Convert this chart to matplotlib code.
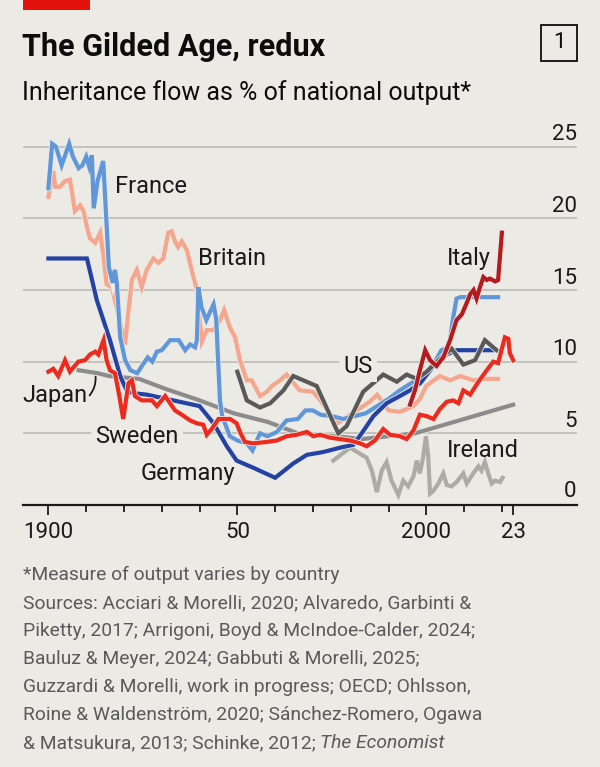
import matplotlib
matplotlib.use("Agg")
import matplotlib.pyplot as plt
import matplotlib.patheffects as pe
from matplotlib.patches import Rectangle

# --- data (year, % of national output) ---
france_years = [1900, 1901, 1902, 1903.5, 1905.5, 1906.5, 1908, 1909, 1910, 1910.8, 1911.5, 1912, 1913,
                1914.5, 1916, 1917, 1917.6, 1918.1, 1919, 1920.3, 1921.7, 1923.5, 1925, 1926.3, 1927.5,
                1928.7, 1930, 1932.2, 1934.5, 1936.2, 1937.5, 1938.8, 1939.3, 1939.7, 1940.5, 1941.8,
                1943, 1943.7, 1944.4, 1945.4, 1946, 1948, 1950, 1952.5, 1954, 1956, 1958, 1960.5, 1963,
                1966, 1968, 1970, 1972, 1975, 1978, 1981, 1984, 1987, 1990, 1993, 1996, 1999, 2002.5,
                2004, 2006, 2007, 2008, 2009, 2019]
france_vals = [22.1, 25.2, 25.0, 23.7, 25.2, 24.3, 23.5, 23.7, 24.3, 23.6, 24.4, 20.7, 22.6,
               24.0, 16.6, 15.5, 16.4, 15.5, 11.7, 10.1, 9.4, 9.2, 9.8, 10.3, 10.0,
               10.7, 10.8, 11.5, 11.5, 10.8, 11.2, 11.0, 11.5, 15.2, 13.8, 12.9,
               13.6, 14.0, 13.0, 7.3, 6.2, 4.8, 4.5, 4.3, 3.8, 5.0, 4.8, 5.1, 5.9,
               6.0, 6.6, 6.6, 6.3, 6.2, 6.0, 6.2, 6.4, 6.9, 7.4, 8.0, 8.5, 9.0, 10.1,
               10.8, 11.0, 12.9, 14.4, 14.5, 14.5]

britain_years = [1900, 1901.3, 1901.8, 1903, 1904.4, 1905.7, 1906.2, 1907, 1908.4, 1909.3, 1910.2, 1911,
                 1912.4, 1913.7, 1914.6, 1915.4, 1916.8, 1920.3, 1921.2, 1922.1, 1923.4, 1924.7, 1926,
                 1927.8, 1929.1, 1930.4, 1931.7, 1932.6, 1933.5, 1934.3, 1935.3, 1936.6, 1937.9, 1939.3,
                 1940.6, 1941.9, 1943.7, 1945.4, 1946.5, 1948, 1949.4, 1950.7, 1952.5, 1953.8, 1956,
                 1957.8, 1959.1, 1961.3, 1963, 1966.5, 1970, 1972, 1974.5, 1976.5, 1981, 1985, 1987,
                 1990, 1993, 1996.6, 1998.3, 2000, 2002, 2003.6, 2006.3, 2009, 2012.4, 2016, 2019]
britain_vals = [21.5, 23.3, 22.2, 22.2, 22.6, 22.7, 21.9, 20.5, 20.9, 20.5, 19.4, 18.6,
                18.3, 19.0, 17.3, 15.4, 15.2, 11.2, 13.6, 15.7, 16.4, 15.2, 16.4,
                17.2, 16.9, 17.2, 19.0, 19.1, 18.4, 18.0, 18.4, 17.8, 16.4, 15.0,
                11.4, 12.2, 12.2, 12.9, 13.6, 12.4, 11.7, 10.1, 8.7, 8.7, 7.6,
                7.9, 8.3, 8.7, 9.1, 8.0, 7.9, 7.3, 6.3, 5.7, 6.5, 7.2, 7.7,
                6.6, 6.5, 6.9, 7.4, 8.3, 8.7, 9.0, 8.7, 9.0, 8.7, 8.8, 8.8]

germany_years = [1900, 1910.2, 1912.8, 1916.3, 1919, 1920.7, 1922.5, 1926, 1933, 1940, 1943.7, 1947.2,
                 1949.8, 1954.2, 1960, 1964.8, 1968.4, 1972.8, 1977.2, 1980.7, 1982.9, 1986, 1989.5,
                 1993, 1995.7, 1998.4, 2001.9, 2005.4, 2008, 2017.7]
germany_vals = [17.2, 17.2, 14.3, 11.5, 9.0, 8.0, 7.8, 7.7, 7.3, 6.9, 5.7, 4.1,
                3.1, 2.6, 1.9, 2.9, 3.5, 3.7, 4.0, 4.2, 5.0, 6.2, 7.1,
                7.6, 8.0, 8.5, 9.7, 10.5, 10.8, 10.8]

sweden_years = [1900, 1901.3, 1902.6, 1904.4, 1905.7, 1907.9, 1909.7, 1911, 1912.4, 1913.2, 1914.6,
                1915.4, 1916.3, 1917.6, 1918.5, 1919.8, 1921.2, 1922.1, 1922.9, 1924.7, 1927.4, 1928.7,
                1930.9, 1932.2, 1933.5, 1935.3, 1937.5, 1939.3, 1941, 1941.9, 1943.2, 1945, 1948.1,
                1949.8, 1950.7, 1952, 1954.2, 1957.8, 1960.4, 1963.1, 1965.7, 1968.4, 1970.1, 1971.9,
                1974.5, 1979.8, 1982.5, 1984.2, 1986.4, 1988.6, 1990.4, 1993, 1994.8, 1996.6, 1998.3,
                2000.1, 2001.9, 2003.6, 2005.4, 2007.1, 2008.5, 2009.8, 2011.6, 2013.8, 2016, 2017.7,
                2019, 2019.9, 2020.8, 2021.7, 2022.1, 2023]
sweden_vals = [9.3, 9.5, 9.0, 10.1, 9.3, 10.0, 10.1, 10.5, 10.7, 10.5, 11.5,
               10.1, 9.4, 9.2, 8.0, 6.0, 8.5, 8.7, 7.6, 7.3, 7.3, 6.9,
               7.6, 7.1, 6.6, 6.3, 5.9, 5.7, 5.6, 4.9, 5.3, 6.0, 6.0,
               5.7, 5.1, 4.4, 4.3, 4.4, 4.5, 4.8, 4.9, 5.1, 4.8, 4.9,
               4.7, 4.5, 4.3, 4.1, 4.5, 5.3, 4.9, 4.8, 4.6, 5.2, 6.3,
               6.2, 6.0, 6.7, 7.2, 7.3, 7.1, 8.0, 7.7, 8.6, 9.4, 10.0,
               9.9, 10.8, 11.7, 11.6, 10.6, 10.1]

italy_years = [1995.7, 1997, 1998.3, 1999.7, 2001, 2002.7, 2004.5, 2006.3, 2008, 2009.4, 2010.7, 2011.6,
               2012.5, 2013.3, 2014.2, 2015.1, 2016, 2016.8, 2018.2, 2019, 2020]
italy_vals = [7.0, 8.0, 9.4, 10.8, 10.1, 9.7, 10.3, 11.5, 12.9, 13.3, 14.1, 14.7,
              15.0, 14.4, 15.2, 15.9, 15.7, 15.8, 15.6, 15.7, 19.0]

us_years = [1950, 1952.5, 1956, 1958.7, 1962.2, 1964.8, 1971, 1976.7, 1978.9, 1983.3, 1988.6, 1992.2,
            1994.8, 1997.5, 2000.1, 2003.6, 2006.7, 2009.8, 2012.9, 2015.5, 2018.6]
us_vals = [9.3, 7.3, 6.8, 7.1, 8.0, 9.0, 8.3, 5.0, 5.5, 7.9, 9.1, 8.6,
           9.1, 8.8, 9.3, 10.2, 10.9, 9.8, 10.1, 11.5, 10.8]

japan_years = [1908, 1913, 1916, 1924, 1931, 1940, 1949, 1958, 1966, 1976, 1983, 1990, 1997, 2023]
japan_vals = [9.4, 9.2, 9.0, 8.8, 8.1, 7.3, 6.4, 5.8, 5.0, 4.8, 4.6, 4.8, 5.0, 7.0]

ireland_years = [1975.4, 1979.8, 1984.2, 1985.6, 1986.9, 1988.2, 1989.5, 1990.8, 1992.6, 1993.9, 1995.2,
                 1996.6, 1997.5, 1998.3, 1999.2, 1999.9, 2000.5, 2001, 2001.9, 2003.2, 2004.5, 2005.4,
                 2006.7, 2008, 2009.8, 2010.7, 2012.4, 2013.8, 2014.6, 2015.5, 2016.4, 2017.3, 2018.2,
                 2019.5, 2020.2]
ireland_vals = [3.1, 4.0, 3.3, 2.4, 0.9, 2.4, 3.0, 1.7, 0.7, 1.7, 1.3,
                2.0, 3.1, 2.2, 3.4, 4.8, 3.4, 0.8, 1.0, 1.5, 2.2, 1.4,
                1.3, 1.6, 2.2, 1.5, 2.2, 2.7, 2.4, 3.0, 2.2, 1.5, 1.7,
                1.6, 1.9]

y_ticks = [0, 5, 10, 15, 20, 25]
x_major = [1900, 1950, 2000, 2023]
x_major_labels = ["1900", "50", "2000", "23"]
x_minor = [1910, 1920, 1930, 1940, 1960, 1970, 1980, 1990, 2010, 2020]

footnotes = [
    "*Measure of output varies by country",
    "Sources: Acciari & Morelli, 2020; Alvaredo, Garbinti &",
    "Piketty, 2017; Arrigoni, Boyd & McIndoe-Calder, 2024;",
    "Bauluz & Meyer, 2024; Gabbuti & Morelli, 2025;",
    "Guzzardi & Morelli, work in progress; OECD; Ohlsson,",
    "Roine & Waldenström, 2020; Sánchez-Romero, Ogawa",
    "& Matsukura, 2013; Schinke, 2012; ",
]

BG = "#ECEAE4"
plt.rcParams["font.family"] = ["Roboto", "DejaVu Sans"]

W, H = 600, 767
fig = plt.figure(figsize=(W / 100, H / 100), dpi=100, facecolor=BG)


def fx(px):
    return px / W


def fy(py):
    return 1 - py / H


ax = fig.add_axes([fx(22.7), fy(505), fx(576.7 - 22.7), (505 - 118) / H])
ax.set_facecolor(BG)
ax.set_xlim(1893.2, 2039.8)
ax.set_ylim(0, 27)

for s in ["top", "right", "left"]:
    ax.spines[s].set_visible(False)
ax.spines["bottom"].set_linewidth(1.6)
ax.spines["bottom"].set_color("#1a1a1a")

for v in y_ticks[1:]:
    ax.axhline(v, color="#B8B6B0", lw=1.1, zorder=0)
    ax.text(1.0, v + 0.45, str(v), transform=ax.get_yaxis_transform(), ha="right",
            va="baseline", fontsize=16, color="#1a1a1a")
ax.text(1.0, 0.55, "0", transform=ax.get_yaxis_transform(), ha="right",
        va="baseline", fontsize=16, color="#1a1a1a")
ax.set_yticks([])

ax.set_xticks(x_major)
ax.set_xticklabels(x_major_labels)
ax.set_xticks(x_minor, minor=True)
ax.tick_params(axis="x", which="major", length=7.5, width=1.3, color="#1a1a1a",
               labelsize=16, pad=5, labelcolor="#1a1a1a")
ax.tick_params(axis="x", which="minor", length=5, width=1.3, color="#1a1a1a")


def draw(xs, ys, color, z, lw=3.0):
    ax.plot(xs, ys, color=color, lw=lw, zorder=z, solid_joinstyle="miter",
            path_effects=[pe.Stroke(linewidth=lw + 1.2, foreground=BG), pe.Normal()])


draw(ireland_years, ireland_vals, "#ADABA6", 2)
draw(japan_years, japan_vals, "#8C8C8C", 3)
draw(britain_years, britain_vals, "#F5A68C", 4)
draw(france_years, france_vals, "#5F97DA", 5)
draw(germany_years, germany_vals, "#2342A3", 6)
draw(us_years, us_vals, "#595959", 7)
draw(italy_years, italy_vals, "#B51B1E", 8)
draw(sweden_years, sweden_vals, "#EE2A1E", 9)

lab = dict(fontsize=17, color="#1a1a1a", va="baseline", zorder=12)
ax.text(1917.6, 21.8, "France", **lab)
ax.text(1939.5, 16.75, "Britain", **lab)
ax.text(2017.0, 16.75, "Italy", ha="right", **lab)
ax.text(1978.0, 9.23, "US", bbox=dict(facecolor=BG, edgecolor="none", pad=3), **lab)
ax.text(1893.2, 7.21, "Japan", **lab)
ax.text(1912.3, 4.35, "Sweden", bbox=dict(facecolor=BG, edgecolor="none", pad=3), **lab)
ax.text(1924.3, 1.74, "Germany", **lab)
ax.text(2005.4, 3.37, "Ireland", **lab)
ax.annotate("", xy=(1912.4, 9.15), xytext=(1910.4, 7.5),
            arrowprops=dict(arrowstyle="-", connectionstyle="arc3,rad=0.25", color="#1a1a1a", lw=1.3))

# header
fig.patches.append(Rectangle((fx(22.7), fy(9.6)), fx(67.3), 9.6 / H, transform=fig.transFigure,
                             facecolor="#E3120B", edgecolor="none"))
fig.text(fx(22), fy(56), "The Gilded Age, redux", fontsize=22, fontweight="bold",
         color="#0d0d0d", va="baseline")
fig.text(fx(22), fy(100), "Inheritance flow as % of national output*", fontsize=18,
         color="#0d0d0d", va="baseline")
fig.patches.append(Rectangle((fx(541), fy(61)), fx(36), 36 / H, transform=fig.transFigure,
                             facecolor="none", edgecolor="#0d0d0d", lw=1.3))
fig.text(fx(559), fy(43), "1", fontsize=16, ha="center", va="center", color="#0d0d0d")

# footnotes
base = 580
step = 28.05
txt = None
for i, line in enumerate(footnotes):
    txt = fig.text(fx(23), fy(base + i * step), line, fontsize=13.9, color="#5a5a5a", va="baseline")
renderer = fig.canvas.get_renderer()
bb = txt.get_window_extent(renderer=renderer)
fig.text(bb.x1 / W, fy(base + 6 * step), "The Economist", fontsize=13.9, color="#5a5a5a",
         va="baseline", style="italic")

fig.savefig("out.png", dpi=100, facecolor=BG)
